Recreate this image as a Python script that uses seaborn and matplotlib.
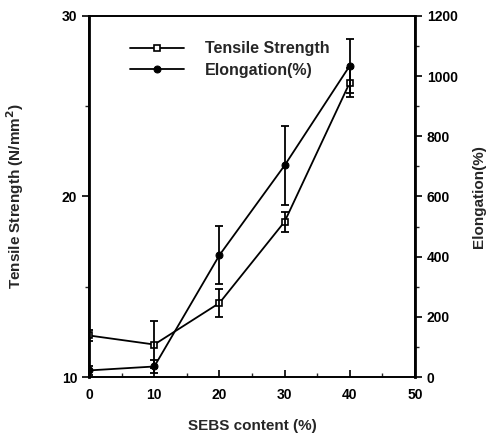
import numpy as np
import pandas as pd
import matplotlib
matplotlib.use("Agg")
import matplotlib.pyplot as plt
import seaborn as sns
from matplotlib.ticker import MultipleLocator

sebs = [0, 10, 20, 30, 40]
tensile = [12.3, 11.8, 14.1, 18.6, 26.3]
tensile_err = [0.3, 1.3, 0.75, 0.55, 0.8]
elong = [22, 35, 405, 703, 1034]
elong_err = [15, 20, 96, 130, 90]

sns.set_theme(style="ticks")
plt.rcParams['font.family'] = ['Liberation Sans', 'DejaVu Sans']
plt.rcParams['font.weight'] = 'bold'

fig = plt.figure(figsize=(5.01, 4.42), dpi=100)
ax = fig.add_axes([0.178, 0.147, 0.650, 0.817])
ax2 = ax.twinx()

df = pd.DataFrame({"x": sebs, "ts": tensile, "el": elong})

sns.lineplot(data=df, x="x", y="ts", ax=ax, color="black", lw=1.3,
             marker="s", markersize=5, markerfacecolor="white",
             markeredgecolor="black", markeredgewidth=1.2, label="Tensile Strength",
             legend=False)
ax.errorbar(sebs, tensile, yerr=tensile_err, fmt="none", ecolor="black",
            elinewidth=1.3, capsize=3, capthick=1.3)

sns.lineplot(data=df, x="x", y="el", ax=ax2, color="black", lw=1.3,
             marker="o", markersize=5, markerfacecolor="black",
             markeredgecolor="black", label="Elongation(%)", legend=False)
ax2.errorbar(sebs, elong, yerr=elong_err, fmt="none", ecolor="black",
             elinewidth=1.3, capsize=3, capthick=1.3)

ax.set_xlim(0, 50)
ax.set_ylim(10, 30)
ax2.set_ylim(0, 1200)
ax.xaxis.set_major_locator(MultipleLocator(10))
ax.xaxis.set_minor_locator(MultipleLocator(5))
ax.yaxis.set_major_locator(MultipleLocator(10))
ax.yaxis.set_minor_locator(MultipleLocator(5))
ax2.yaxis.set_major_locator(MultipleLocator(200))
ax2.yaxis.set_minor_locator(MultipleLocator(100))

for a in (ax, ax2):
    for s in a.spines.values():
        s.set_visible(True)
        s.set_linewidth(1.2)
        s.set_color("black")
    a.tick_params(which="major", length=5, width=1.2, labelsize=10, colors="black")
    a.tick_params(which="minor", length=3, width=1.0)
ax.tick_params(axis="x", which="both", direction="in", pad=8)
ax.spines["left"].set_linewidth(2.0)
ax2.spines["right"].set_linewidth(2.0)

for lab in ax.get_xticklabels() + ax.get_yticklabels() + ax2.get_yticklabels():
    lab.set_fontweight("bold")

ax.set_xlabel("SEBS content (%)", fontsize=11, fontweight="bold", labelpad=12)
ax.set_ylabel("Tensile Strength (N/mm$^\\mathbf{2}$)", fontsize=11, fontweight="bold", labelpad=26)
ax2.set_ylabel("Elongation(%)", fontsize=11, fontweight="bold", labelpad=10)

h1, l1 = ax.get_legend_handles_labels()
h2, l2 = ax2.get_legend_handles_labels()
leg = ax2.legend(h1 + h2, l1 + l2, loc="upper left", bbox_to_anchor=(0.08, 0.97),
                 frameon=False, handlelength=3.4, handletextpad=1.3,
                 prop={"size": 11.5, "weight": "bold"}, labelspacing=0.4)

fig.savefig("out.png", dpi=100)
